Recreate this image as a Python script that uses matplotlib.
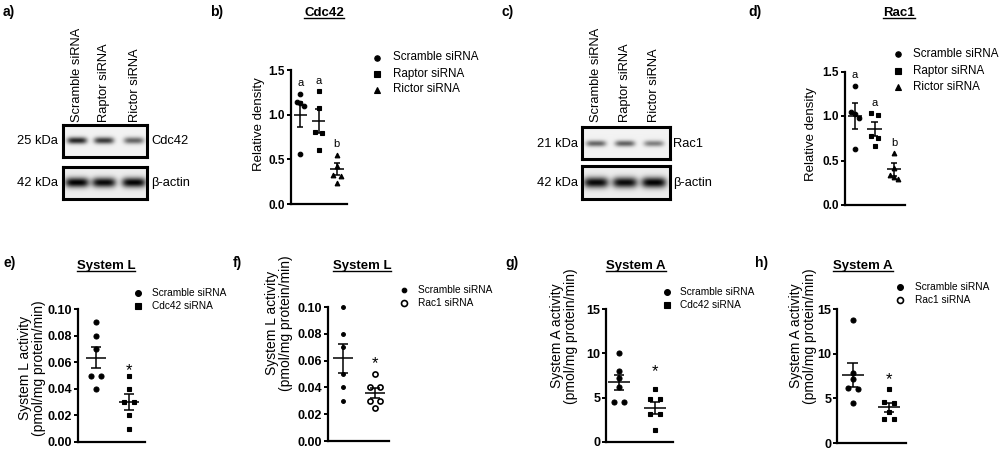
import numpy as np
import matplotlib
matplotlib.use('Agg')
import matplotlib.pyplot as plt
from matplotlib.lines import Line2D

W, H, DPI = 1000, 450, 100
plt.rcParams['font.family'] = ['Liberation Sans', 'DejaVu Sans']
plt.rcParams['axes.linewidth'] = 1.5

# ------------------------------------------------------------------ data
blot_lanes = ['Scramble siRNA', 'Raptor siRNA', 'Rictor siRNA']
cdc42_band = [0.80, 0.72, 0.55]
cdc42_actin_band = [0.93, 0.90, 0.92]
rac1_band = [0.55, 0.57, 0.45]
rac1_actin_band = [0.90, 0.89, 0.93]

density_groups = ['Scramble siRNA', 'Raptor siRNA', 'Rictor siRNA']
density_letters = ['a', 'a', 'b']
cdc42_scramble = [1.23, 1.14, 1.13, 1.10, 0.56]
cdc42_raptor = [1.26, 1.07, 0.81, 0.79, 0.61]
cdc42_rictor = [0.55, 0.43, 0.33, 0.31, 0.23]
cdc42_mean = [1.00, 0.93, 0.39]
cdc42_sem = [0.14, 0.135, 0.065]

rac1_scramble = [1.34, 1.04, 1.02, 0.98, 0.63]
rac1_raptor = [1.03, 1.01, 0.77, 0.75, 0.66]
rac1_rictor = [0.58, 0.42, 0.34, 0.31, 0.29]
rac1_mean = [1.00, 0.85, 0.40]
rac1_sem = [0.145, 0.077, 0.07]

sysL_cdc42_groups = ['Scramble siRNA', 'Cdc42 siRNA']
sysL_cdc42_scramble = [0.09, 0.08, 0.07, 0.05, 0.05, 0.04]
sysL_cdc42_sirna = [0.05, 0.04, 0.03, 0.03, 0.02, 0.01]

sysL_rac1_groups = ['Scramble siRNA', 'Rac1 siRNA']
sysL_rac1_scramble = [0.10, 0.08, 0.07, 0.05, 0.04, 0.03]
sysL_rac1_sirna = [0.05, 0.04, 0.04, 0.03, 0.03, 0.025]

sysA_cdc42_groups = ['Scramble siRNA', 'Cdc42 siRNA']
sysA_cdc42_scramble = [10.0, 8.0, 7.2, 6.2, 4.5, 4.5]
sysA_cdc42_sirna = [6.0, 4.8, 4.8, 3.2, 3.2, 1.3]

sysA_rac1_groups = ['Scramble siRNA', 'Rac1 siRNA']
sysA_rac1_scramble = [13.8, 7.8, 7.2, 6.2, 6.0, 4.5]
sysA_rac1_sirna = [6.0, 4.6, 4.5, 3.5, 2.7, 2.7]

# ------------------------------------------------------------------ helpers
fig = plt.figure(figsize=(W / DPI, H / DPI), dpi=DPI)


def fx(x):
    return x / W


def fy(y):
    return 1 - y / H


def fbox(l, t, r, b):
    return [l / W, 1 - b / H, (r - l) / W, (b - t) / H]


def ftext(x, y, s, **kw):
    return fig.text(fx(x), fy(y), s, **kw)


def panel_letter(x, y, s):
    ftext(x, y, s, fontsize=10, fontweight='bold', ha='left', va='baseline')


titles = []


def title(xc, y, s):
    t = ftext(xc, y, s, fontsize=9.5, fontweight='bold', ha='center', va='baseline')
    titles.append((t, y))


def blot(box, lane_x, band_y, intens, hw, hh, bg=0.95):
    l, t, r, b = box
    ax = fig.add_axes(fbox(l, t, r, b))
    xs = np.linspace(l, r, int((r - l) * 3))
    ys = np.linspace(t, b, int((b - t) * 3))
    X, Y = np.meshgrid(xs, ys)
    img = np.full(X.shape, bg)
    for cx, a in zip(lane_x, intens):
        img -= a * np.exp(-((X - cx) / hw) ** 4 - ((Y - band_y) / hh) ** 2)
    ax.imshow(np.clip(img, 0, 1), extent=(l, r, b, t), cmap='gray', vmin=0, vmax=1,
              aspect='auto', interpolation='bilinear')
    ax.set_xlim(l, r)
    ax.set_ylim(b, t)
    ax.set_xticks([])
    ax.set_yticks([])
    for sp in ax.spines.values():
        sp.set_linewidth(2.2)
        sp.set_color('black')
    return ax


def swarm_offsets(vals, py, diam, s):
    v = np.asarray(vals, float)
    order = np.argsort(-v, kind='stable')
    offs = np.zeros(len(v))
    clusters, cur = [], [order[0]]
    for i in order[1:]:
        if abs(v[cur[-1]] - v[i]) * py < diam:
            cur.append(i)
        else:
            clusters.append(cur)
            cur = [i]
    clusters.append(cur)
    for c in clusters:
        k = len(c)
        for j, idx in enumerate(c):
            offs[idx] = (-s if j == 0 else s) if k == 2 else (j - (k - 1) / 2) * s
    return offs


def scatter_panel(box, xlim, ylim, yticks, fmt, series, styles, means=None, sems=None,
                  tick_fs=8.5, hw=0.35, cw=0.17, spread=4.5, diam=4.5):
    l, t, r, b = box
    ax = fig.add_axes(fbox(l, t, r, b))
    ax.set_xlim(*xlim)
    ax.set_ylim(*ylim)
    px = (r - l) / (xlim[1] - xlim[0])
    py = (b - t) / (ylim[1] - ylim[0])
    for i, vals in enumerate(series):
        st = styles[i]
        offs = swarm_offsets(vals, py, diam, spread) / px
        ax.plot(i + offs, vals, linestyle='none', marker=st['marker'], ms=st['ms'],
                mfc=st['mfc'], mec='black', mew=st.get('mew', 0.8), clip_on=False, zorder=3)
        m = means[i] if means is not None else float(np.mean(vals))
        e = sems[i] if sems is not None else float(np.std(vals, ddof=1) / np.sqrt(len(vals)))
        ax.hlines(m, i - hw, i + hw, color='black', lw=1.1, zorder=4)
        ax.vlines(i, m - e, m + e, color='black', lw=1.1, zorder=4)
        ax.hlines([m - e, m + e], i - cw, i + cw, color='black', lw=1.1, zorder=4)
    ax.spines['top'].set_visible(False)
    ax.spines['right'].set_visible(False)
    ax.spines['left'].set_linewidth(1.6)
    ax.spines['bottom'].set_linewidth(1.6)
    ax.set_xticks([])
    ax.set_yticks(yticks)
    ax.set_yticklabels([fmt.format(v) for v in yticks], fontsize=tick_fs, fontweight='bold')
    ax.tick_params(axis='y', length=3, width=1.4, pad=1.2)
    ax.patch.set_visible(False)
    return ax


def legend(mx, tx, ys, labels, styles, fs):
    for y, lab, st in zip(ys, labels, styles):
        fig.add_artist(Line2D([fx(mx)], [fy(y)], transform=fig.transFigure, linestyle='none',
                              marker=st['marker'], ms=st['ms'] + 0.6, mfc=st['mfc'], mec='black',
                              mew=st.get('mew', 0.8)))
        ftext(tx, y, lab, fontsize=fs, ha='left', va='center')


def ylabel(xc, yc, s, fs):
    ftext(xc, yc, s, fontsize=fs, rotation=90, ha='center', va='center',
          multialignment='center', linespacing=1.05)


# ------------------------------------------------------------------ panel a
panel_letter(3, 16, 'a)')
blot((63, 125, 147, 157), [77, 104, 134], 140.5, cdc42_band, 10, 3.4)
blot((63, 167, 147, 199), [77, 104, 134], 183, cdc42_actin_band, 12, 4.8, bg=0.93)
for x, lab in zip([77, 104, 135], blot_lanes):
    ftext(x, 122, lab, fontsize=9.3, rotation=90, ha='center', va='bottom')
ftext(58, 141, '25 kDa', fontsize=9.3, ha='right', va='center')
ftext(58, 183, '42 kDa', fontsize=9.3, ha='right', va='center')
ftext(151, 141, 'Cdc42', fontsize=9.3, ha='left', va='center')
ftext(151, 183, 'β-actin', fontsize=9.3, ha='left', va='center')

# ------------------------------------------------------------------ panel c
panel_letter(501, 16, 'c)')
blot((582, 127, 670, 159), [596, 625, 654], 144, rac1_band, 10, 3.0)
blot((582, 166, 670, 199), [596, 625, 654], 183, rac1_actin_band, 12.5, 5.2, bg=0.93)
for x, lab in zip([596, 625, 654], blot_lanes):
    ftext(x, 122, lab, fontsize=9.3, rotation=90, ha='center', va='bottom')
ftext(578, 144, '21 kDa', fontsize=9.3, ha='right', va='center')
ftext(578, 183, '42 kDa', fontsize=9.3, ha='right', va='center')
ftext(673, 144, 'Rac1', fontsize=9.3, ha='left', va='center')
ftext(673, 183, 'β-actin', fontsize=9.3, ha='left', va='center')

# ------------------------------------------------------------------ panels b, d
dens_styles = [dict(marker='o', ms=3.3, mfc='black'),
               dict(marker='s', ms=3.1, mfc='black'),
               dict(marker='^', ms=3.4, mfc='black')]


def density_panel(box, xlim, series, means, sems):
    ax = scatter_panel(box, xlim, (0, 1.5), [0.0, 0.5, 1.0, 1.5], '{:.1f}', series, dens_styles,
                       means, sems, tick_fs=8.5, hw=0.36, cw=0.17, spread=3.6, diam=4.2)
    for i, vals in enumerate(series):
        ax.annotate(density_letters[i], (i, max(vals)), xytext=(0, 5.5), textcoords='offset points',
                    ha='center', va='baseline', fontsize=8)
    return ax


panel_letter(210, 16, 'b)')
title(324, 16, 'Cdc42')
density_panel((291, 70, 347, 204), (-0.5, 2.55),
              [cdc42_scramble, cdc42_raptor, cdc42_rictor], cdc42_mean, cdc42_sem)
ylabel(259, 124, 'Relative density', 9.5)
legend(377, 393, [57.5, 73.5, 89.5], density_groups, dens_styles, 8.4)

panel_letter(748, 16, 'd)')
title(899, 16, 'Rac1')
density_panel((845, 71.5, 905, 205), (-0.51, 2.56),
              [rac1_scramble, rac1_raptor, rac1_rictor], rac1_mean, rac1_sem)
ylabel(811, 134, 'Relative density', 9.5)
legend(898, 913, [54, 70.5, 87], density_groups, dens_styles, 8.4)

# ------------------------------------------------------------------ row 2


def activity_panel(box, xlim, ylim, yticks, fmt, series, styles, star_off):
    ax = scatter_panel(box, xlim, ylim, yticks, fmt, series, styles, tick_fs=9,
                       hw=0.3, cw=0.15, spread=5.2, diam=4.6)
    v = series[1]
    top = np.mean(v) + np.std(v, ddof=1) / np.sqrt(len(v))
    ax.annotate('*', (1, top), xytext=(0, star_off), textcoords='offset points',
                ha='center', va='baseline', fontsize=12)
    return ax


filled_c = dict(marker='o', ms=3.6, mfc='black')
small_c = dict(marker='o', ms=2.7, mfc='black')
filled_s = dict(marker='s', ms=3.5, mfc='black')
open_c = dict(marker='o', ms=3.7, mfc='white', mew=1.2)
lab2 = 10

# e
panel_letter(3, 267, 'e)')
title(106, 269, 'System L')
activity_panel((78, 309, 145, 442), (-0.55, 1.48), (0, 0.10), [0.0, 0.02, 0.04, 0.06, 0.08, 0.10],
               '{:.2f}', [sysL_cdc42_scramble, sysL_cdc42_sirna], [filled_c, filled_s], 14)
ylabel(32, 368, 'System L activity\n(pmol/mg protein/min)', lab2)
legend(138, 152, [293, 306], sysL_cdc42_groups, [filled_c, filled_s], 7.3)

# f
panel_letter(233, 267, 'f)')
title(362, 269, 'System L')
activity_panel((328, 307, 389, 441), (-0.47, 1.44), (0, 0.10), [0.0, 0.02, 0.04, 0.06, 0.08, 0.10],
               '{:.2f}', [sysL_rac1_scramble, sysL_rac1_sirna], [small_c, open_c], 14)
ylabel(279, 323, 'System L activity\n(pmol/mg protein/min)', lab2)
legend(404, 418, [290, 303], sysL_rac1_groups, [small_c, open_c], 7.3)

# g
panel_letter(505, 267, 'g)')
title(636, 269, 'System A')
activity_panel((606, 309, 673, 442), (-0.36, 1.5), (0, 15), [0, 5, 10, 15], '{:d}',
               [sysA_cdc42_scramble, sysA_cdc42_sirna], [filled_c, filled_s], 18)
ylabel(564, 336, 'System A activity\n(pmol/mg protein/min)', lab2)
legend(667, 680, [292, 305], sysA_cdc42_groups, [filled_c, filled_s], 7.3)

# h
panel_letter(755, 267, 'h)')
title(863, 269, 'System A')
activity_panel((837, 309, 906, 443), (-0.44, 1.47), (0, 15), [0, 5, 10, 15], '{:d}',
               [sysA_rac1_scramble, sysA_rac1_sirna], [filled_c, filled_s], 13)
ylabel(803, 336, 'System A activity\n(pmol/mg protein/min)', lab2)
legend(900, 915, [287, 300], sysA_rac1_groups, [filled_c, open_c], 7.3)

# ------------------------------------------------------------------ underline titles
fig.canvas.draw()
renderer = fig.canvas.get_renderer()
for t, y in titles:
    bb = t.get_window_extent(renderer)
    yy = fy(y + 2)
    fig.add_artist(Line2D([bb.x0 / W, bb.x1 / W], [yy, yy], transform=fig.transFigure,
                          color='black', lw=1.0))

fig.savefig('out.png', dpi=DPI)
